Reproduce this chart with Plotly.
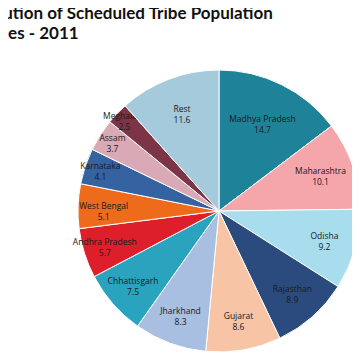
import plotly.graph_objects as go

states = ["Madhya Pradesh", "Maharashtra", "Odisha", "Rajasthan", "Gujarat",
          "Jharkhand", "Chhattisgarh", "Andhra Pradesh", "West Bengal",
          "Karnataka", "Assam", "Meghalaya", "Rest"]
shares = [14.7, 10.1, 9.2, 8.9, 8.6, 8.3, 7.5, 5.7, 5.1, 4.1, 3.7, 2.5, 11.6]
colors = ["#1e8399", "#f4a6aa", "#a7dded", "#2b4b7e", "#f7c4a6",
          "#a9bfe1", "#2aa3bf", "#dc1f2b", "#ee6b1b", "#3562a1",
          "#d9aab5", "#7b3546", "#a5cadb"]
title_lines = ["Distribution of Scheduled Tribe Population", "in States - 2011"]

# figure sized so that, with the page's 8px body margin, it fills the 360px window
W, H = 352, 344
cx, cy, r = 211, 203, 141  # pie geometry in figure pixels

fig = go.Figure(go.Pie(
    labels=states,
    values=shares,
    sort=False,
    direction="clockwise",
    rotation=0,
    marker=dict(colors=colors, line=dict(color="white", width=1)),
    textinfo="label+value",
    textposition="inside",
    insidetextorientation="horizontal",
    textfont=dict(family="Open Sans", size=8.5, color="#1a1a1a"),
    domain=dict(x=[(cx - r) / W, min(1, (cx + r) / W)],
                y=[max(0, 1 - (cy + r) / H), 1 - (cy - r) / H]),
    showlegend=False,
    hoverinfo="label+value",
))

for line, xoff, ytop in zip(title_lines, [-58, -50], [-8, 12]):
    fig.add_annotation(
        text="<b>" + line + "</b>",
        xref="paper", yref="paper",
        x=xoff / W, y=1 - ytop / H,
        xanchor="left", yanchor="top", align="left",
        showarrow=False,
        font=dict(family="Lato", size=17, color="#111111"),
    )

fig.update_layout(
    width=W, height=H,
    margin=dict(l=0, r=0, t=0, b=0),
    paper_bgcolor="white",
    plot_bgcolor="white",
    uniformtext=dict(minsize=8.5, mode="show"),
)

fig.write_html("out.html")
